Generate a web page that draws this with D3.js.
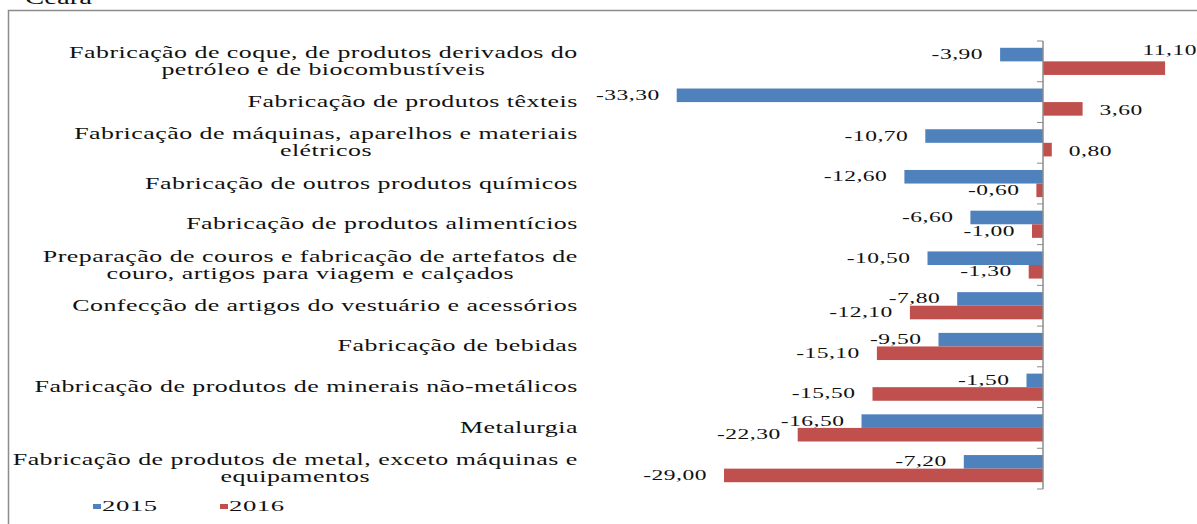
<!DOCTYPE html>
<html>
<head>
<meta charset="utf-8">
<script src="https://cdn.jsdelivr.net/npm/d3@7"></script>
<style>
  body { margin: 0; background: #fff; }
  svg { display: block; font-family: 'Liberation Serif', 'Times New Roman', serif; }
</style>
</head>
<body>
<svg id="canvas" width="1197" height="524"></svg>
<script>
let categories = [
  ['Fabricação de coque, de produtos derivados do', 'petróleo e de biocombustíveis'],
  ['Fabricação de produtos têxteis'],
  ['Fabricação de máquinas, aparelhos e materiais', 'elétricos'],
  ['Fabricação de outros produtos químicos'],
  ['Fabricação de produtos alimentícios'],
  ['Preparação de couros e fabricação de artefatos de', 'couro, artigos para viagem e calçados'],
  ['Confecção de artigos do vestuário e acessórios'],
  ['Fabricação de bebidas'],
  ['Fabricação de produtos de minerais não-metálicos'],
  ['Metalurgia'],
  ['Fabricação de produtos de metal, exceto máquinas e', 'equipamentos']
]
let series = ['2015', '2016']
let values2015 = [-3.9, -33.3, -10.7, -12.6, -6.6, -10.5, -7.8, -9.5, -1.5, -16.5, -7.2]
let values2016 = [11.1, 3.6, 0.8, -0.6, -1.0, -1.3, -12.1, -15.1, -15.5, -22.3, -29.0]
let colors = ['#4F81BD', '#C0504D']

const W = 1197
const svg = d3.select('#canvas')

const locale = d3.formatLocale({ decimal: ',', thousands: '.', grouping: [3], currency: ['R$', ''], minus: '-' })
const fmt = locale.format('.2f')

let keys = categories.map((c, i) => i)
let rows = keys.map(i => ({ i: i, v: [values2015[i], values2016[i]] }))

let x = d3.scaleLinear().domain([-40, 20]).range([603, 1263])
let y = d3.scaleBand().domain(keys).range([41, 489])
let y1 = d3.scaleBand().domain(series).range([0, y.bandwidth()]).paddingOuter(0.5)

// frame
svg.append('rect')
  .attr('x', 8.5).attr('y', 10.5).attr('width', 1300).attr('height', 600)
  .attr('fill', 'none').attr('stroke', '#8c8c8c').attr('stroke-width', 1.5)

// the picture is stretched sideways, so every text gets a horizontal scale
let stretched = (sel, px, py, sx) => sel.attr('transform', `translate(${px},${py}) scale(${sx},1)`)

// title cut by the top edge
stretched(svg.append('text'), 25, 4, 1.6)
  .attr('font-size', 18).attr('fill', '#111').text('Ceará')

// bars
let groups = svg.selectAll('g.row')
  .data(rows)
  .enter()
  .append('g')
  .attr('class', 'row')
  .attr('transform', d => `translate(0,${y(d.i)})`)

groups.selectAll('rect')
  .data(d => d.v.map((v, k) => ({ v: v, s: series[k], k: k })))
  .enter()
  .append('rect')
  .attr('x', d => x(Math.min(0, d.v)))
  .attr('y', d => y1(d.s))
  .attr('width', d => Math.abs(x(d.v) - x(0)))
  .attr('height', y1.bandwidth())
  .attr('fill', d => colors[d.k])

// axis line with ticks between the categories
let axisG = svg.append('g').attr('transform', `translate(${x(0)},0)`)
axisG.append('line').attr('x1', 0).attr('x2', 0).attr('y1', y.range()[0]).attr('y2', y.range()[1])
  .attr('stroke', '#8c8c8c').attr('stroke-width', 1.5)
let bounds = keys.map(k => y(k)).concat([y.range()[1]])
axisG.selectAll('line.tk').data(bounds).enter().append('line')
  .attr('class', 'tk')
  .attr('x1', -6).attr('x2', 0).attr('y1', d => d).attr('y2', d => d)
  .attr('stroke', '#8c8c8c').attr('stroke-width', 1)

// value labels
const VSX = 1.68
groups.each(function (d) {
  let g = d3.select(this)
  d.v.forEach((v, k) => {
    let cy = y1(series[k]) + y1.bandwidth() / 2 + 4.5
    let t = g.append('text')
      .attr('font-size', 14)
      .attr('fill', '#111')
      .attr('letter-spacing', 0.3)
      .text(fmt(v))
    let w = t.node().getComputedTextLength() * VSX
    if (v < 0) {
      stretched(t, x(v) - 17, cy, VSX).attr('text-anchor', 'end')
    } else if (x(v) + 17 + w > W) {
      stretched(t, W, cy - y1.bandwidth() - 4, VSX).attr('text-anchor', 'end')
    } else {
      stretched(t, x(v) + 17, cy + 2, VSX)
    }
  })
})

// category labels: block right-aligned, lines centred inside it
const CSX = 1.62
let labelRight = 578
categories.forEach((lines, i) => {
  let cy = y(i) + y.bandwidth() / 2
  let lh = 17
  let texts = lines.map((line, j) => svg.append('text')
    .attr('font-size', 16)
    .attr('fill', '#111')
    .attr('letter-spacing', 0.3)
    .attr('text-anchor', 'middle')
    .text(line))
  let blockW = d3.max(texts, t => t.node().getComputedTextLength() * CSX)
  texts.forEach((t, j) => {
    let ly = cy + (j - (lines.length - 1) / 2) * lh + 5
    stretched(t, labelRight - blockW / 2, ly, CSX)
  })
})

// legend
let legend = svg.append('g').attr('transform', 'translate(93,0)')
series.forEach((s, k) => {
  let lx = k * 127
  legend.append('rect').attr('x', lx).attr('y', 504).attr('width', 8).attr('height', 5).attr('fill', colors[k])
  stretched(legend.append('text'), lx + 9, 511, 1.78)
    .attr('font-size', 15).attr('fill', '#111').attr('letter-spacing', 0.3).text(s)
})
</script>
</body>
</html>
